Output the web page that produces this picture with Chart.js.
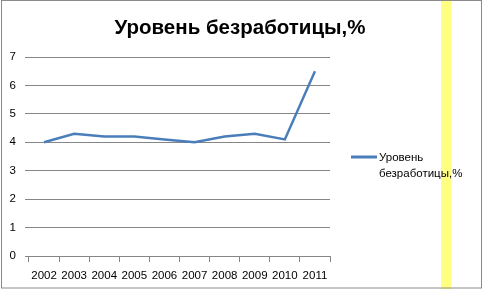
<!DOCTYPE html>
<html>
<head>
<meta charset="utf-8">
<script src="https://cdn.jsdelivr.net/npm/chart.js@4"></script>
<style>
    html, body { margin: 0; padding: 0; background: #fff; }
    #wrap { width: 482px; height: 289px; position: relative; }
</style>
</head>
<body>
<div id="wrap"><canvas id="unemploymentChart" width="482" height="289"></canvas></div>
<script>
const years = ['2002', '2003', '2004', '2005', '2006', '2007', '2008', '2009', '2010', '2011'];
const unemployment = [4.0, 4.3, 4.2, 4.2, 4.1, 4.0, 4.2, 4.3, 4.1, 6.5];
const yTicks = [0, 1, 2, 3, 4, 5, 6, 7];
const chartTitle = 'Уровень безработицы,%';
const legendLines = ['Уровень', 'безработицы,%'];

const FONT = '"Liberation Sans", Arial, sans-serif';

// frame, yellow strip, title and legend drawn around the plot
const decorations = {
    id: 'decorations',
    beforeDraw(chart) {
        const ctx = chart.ctx;
        ctx.save();
        ctx.fillStyle = '#ffffff';
        ctx.fillRect(0, 0, chart.width, chart.height);
        ctx.fillStyle = '#ffff80';
        ctx.fillRect(441, 0, 10, chart.height);
        ctx.strokeStyle = '#8a8a8a';
        ctx.lineWidth = 1;
        ctx.strokeRect(1.5, 0.5, 480, 287.5);
        ctx.restore();
    },
    afterDraw(chart) {
        const ctx = chart.ctx;
        ctx.save();
        ctx.fillStyle = '#000';
        ctx.font = 'bold 20.5px ' + FONT;
        ctx.textAlign = 'center';
        ctx.textBaseline = 'alphabetic';
        ctx.fillText(chartTitle, 240, 34);

        const ds = chart.data.datasets[0];
        ctx.strokeStyle = ds.borderColor;
        ctx.lineWidth = 3;
        ctx.beginPath();
        ctx.moveTo(351, 157);
        ctx.lineTo(377, 157);
        ctx.stroke();

        ctx.font = '11.5px ' + FONT;
        ctx.textAlign = 'left';
        ctx.fillText(legendLines[0], 379, 161);
        ctx.fillText(legendLines[1], 379, 177);
        ctx.restore();
    }
};

const config = {
    type: 'line',
    data: {
        labels: years,
        datasets: [{
            label: legendLines.join(' '),
            data: unemployment,
            borderColor: '#4a7ebb',
            borderWidth: 2.5,
            pointRadius: 0,
            tension: 0,
            fill: false,
        }],
    },
    options: {
        responsive: false,
        animation: false,
        layout: {
            padding: { top: 57, right: 152, bottom: 0, left: 0 },
        },
        plugins: {
            legend: { display: false },
            title: { display: false },
            tooltip: { enabled: false },
        },
        scales: {
            x: {
                offset: true,
                grid: {
                    offset: true,
                    drawOnChartArea: false,
                    color: '#868686',
                    tickLength: 6,
                },
                border: { display: true, color: '#868686' },
                ticks: {
                    color: '#000',
                    font: { family: FONT, size: 11.5 },
                    padding: 7,
                    maxRotation: 0,
                    autoSkip: false,
                },
                afterFit: (scale) => { scale.height = 33; },
            },
            y: {
                min: 0,
                max: 7,
                afterBuildTicks: (scale) => {
                    scale.ticks = yTicks.map((v) => ({ value: v }));
                },
                grid: {
                    color: '#868686',
                    tickLength: 4,
                },
                border: { display: false },
                ticks: {
                    color: '#000',
                    font: { family: FONT, size: 11.5 },
                    padding: 9,
                },
                afterFit: (scale) => { scale.width = 29; },
            },
        },
    },
    plugins: [decorations],
};

document.addEventListener('DOMContentLoaded', () => {
    const $canvas = document.getElementById('unemploymentChart');
    new Chart($canvas, config);
});
</script>
</body>
</html>
